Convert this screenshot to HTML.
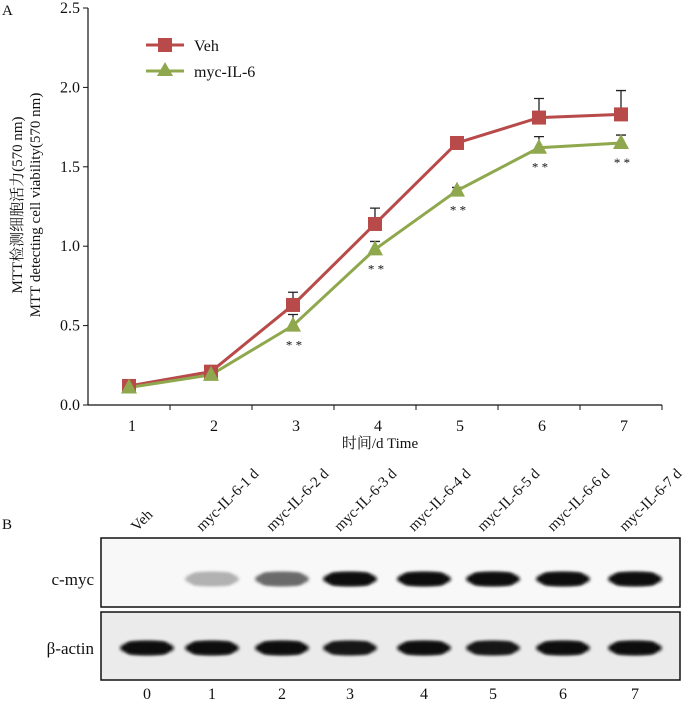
<!DOCTYPE html>
<html><head><meta charset="utf-8"><style>
body{margin:0;background:#fff;}
svg text{font-family:"Liberation Serif","Noto Serif CJK SC",serif;fill:#111;}
</style></head><body>
<svg width="700" height="702" viewBox="0 0 700 702">
<defs>
<filter id="blur" x="-20%" y="-60%" width="140%" height="220%"><feGaussianBlur stdDeviation="1.6"/></filter>
</defs>
<text x="2" y="15" font-size="15">A</text>
<g id="chart"></g>
<text x="2" y="529" font-size="15">B</text>
<g id="blot"></g>
</svg>
<script>
const days = [1,2,3,4,5,6,7];
const vehValues = [0.12,0.21,0.63,1.14,1.65,1.81,1.83];
const vehErr = [0.02,0.03,0.08,0.10,0.0,0.12,0.15];
const mycValues = [0.11,0.19,0.50,0.98,1.35,1.62,1.65];
const mycErr = [0.01,0.02,0.07,0.05,0.02,0.07,0.05];
const sigDays = [3,4,5,6,7];
const yTicks = [0.0,0.5,1.0,1.5,2.0,2.5];
const lanes = ["Veh","myc-IL-6-1 d","myc-IL-6-2 d","myc-IL-6-3 d","myc-IL-6-4 d","myc-IL-6-5 d","myc-IL-6-6 d","myc-IL-6-7 d"];
const laneNums = ["0","1","2","3","4","5","6","7"];
const cmycIntensity = [0,0.3,0.6,1,1,1,1,1];
const actinIntensity = [1,1,1,0.97,1,0.95,1,1];
const laneX = [147,212,282,350,424,493,563,635];

const NS="http://www.w3.org/2000/svg";
function mk(parent,tag,attrs,txt){const e=document.createElementNS(NS,tag);for(const k in attrs)e.setAttribute(k,attrs[k]);if(txt!==undefined)e.textContent=txt;parent.appendChild(e);return e;}
const X0=88,Y0=405,Y1=8,STEP=82;
const xs=d=>X0+STEP*(d-0.5);
const ys=v=>Y0-(v/2.5)*(Y0-Y1);
const g=document.getElementById('chart');
let ax=mk(g,'line',{x1:X0,y1:Y1,x2:X0,y2:Y0,stroke:'#111','stroke-width':1.2});


ax=mk(g,'line',{x1:X0,y1:Y0,x2:X0+STEP*7,y2:Y0,stroke:'#111','stroke-width':1.2});


yTicks.forEach(t=>{
  mk(g,'line',{x1:X0-5,y1:ys(t),x2:X0,y2:ys(t),stroke:'#111'});
  const tl=mk(g,'text',{x:X0-8,y:ys(t)+5,'font-size':16,'text-anchor':'end'},t.toFixed(1));
  
  
});
for(let i=1;i<=7;i++){mk(g,'line',{x1:X0+STEP*i,y1:Y0,x2:X0+STEP*i,y2:Y0+5,stroke:'#111'});}
days.forEach(d=>{
  const tl=mk(g,'text',{x:xs(d)+3,y:Y0+26,'font-size':16,'text-anchor':'middle'},String(d));
  
  
});
let t=mk(g,'text',{x:380,y:448,'font-size':15,'text-anchor':'middle'},'时间/d  Time');


t=mk(g,'text',{transform:'translate(22,205) rotate(-90)','font-size':15,'text-anchor':'middle'},'MTT检测细胞活力(570 nm)');


t=mk(g,'text',{transform:'translate(40,205) rotate(-90)','font-size':15,'text-anchor':'middle'},'MTT detecting cell viability(570 nm)');


function errBars(vals,errs,name){
  vals.forEach((v,i)=>{ if(errs[i]<=0)return;
    const x=xs(days[i]),y1=ys(v),y2=ys(v+errs[i]);
    const e=mk(g,'path',{d:`M${x},${y1}V${y2}M${x-5},${y2}H${x+5}`,stroke:'#222','stroke-width':1.3,fill:'none'});
    
    
  });
}
errBars(vehValues,vehErr,'veh-error-bar');
errBars(mycValues,mycErr,'myc-error-bar');
let l=mk(g,'polyline',{points:vehValues.map((v,i)=>xs(days[i])+','+ys(v)).join(' '),fill:'none',stroke:'#b84a4a','stroke-width':3});


l=mk(g,'polyline',{points:mycValues.map((v,i)=>xs(days[i])+','+ys(v)).join(' '),fill:'none',stroke:'#8fa84e','stroke-width':3});


vehValues.forEach((v,i)=>{
  const m=mk(g,'rect',{x:xs(days[i])-7,y:ys(v)-7,width:14,height:14,fill:'#b84a4a'});
  
  
});
mycValues.forEach((v,i)=>{
  const x=xs(days[i]),y=ys(v);
  const m=mk(g,'polygon',{points:`${x},${y-9} ${x-8},${y+6} ${x+8},${y+6}`,fill:'#8fa84e'});
  
  
});
sigDays.forEach(d=>{
  const i=days.indexOf(d);
  const s=mk(g,'text',{x:xs(d)+1,y:ys(mycValues[i])+24,'font-size':13,'text-anchor':'middle','font-family':'Liberation Sans'},'* *');
  
  
});
let lg=mk(g,'g',{});


mk(lg,'line',{x1:146,y1:45,x2:184,y2:45,stroke:'#b84a4a','stroke-width':3});
mk(lg,'rect',{x:158,y:38,width:14,height:14,fill:'#b84a4a'});
mk(lg,'text',{x:194,y:51,'font-size':16},'Veh');
mk(lg,'line',{x1:146,y1:71,x2:184,y2:71,stroke:'#8fa84e','stroke-width':3});
mk(lg,'polygon',{points:'165,62 157,76 173,76',fill:'#8fa84e'});
mk(lg,'text',{x:194,y:77,'font-size':16},'myc-IL-6');

const b=document.getElementById('blot');
function panel(y,h,vals,bandY,name,bw,bg){
  const p=mk(b,'g',{});
  
  
  mk(p,'rect',{x:101,y:y,width:579,height:h,fill:bg,stroke:'#111','stroke-width':1.5});
  vals.forEach((v,i)=>{ if(v<=0)return;
    const c=Math.round(235*(1-v)+12);
    mk(p,'ellipse',{cx:laneX[i],cy:bandY,rx:bw/2,ry:7,fill:`rgb(${c},${c},${c})`,filter:'url(#blur)'});
    mk(p,'rect',{x:laneX[i]-bw/2+6,y:bandY-6,width:bw-12,height:12,rx:5,fill:`rgb(${c},${c},${c})`,filter:'url(#blur)'});
  });
}
panel(538,69,cmycIntensity,579,'cmyc-blot',54,'#f8f8f8');
panel(612,68,actinIntensity,648,'actin-blot',54,'#ebebeb');
t=mk(b,'text',{x:94,y:585,'font-size':17,'text-anchor':'end'},'c-myc');


t=mk(b,'text',{x:94,y:654,'font-size':17,'text-anchor':'end'},'β-actin');


lanes.forEach((s,i)=>{
  const x=laneX[i]-10,y=532;
  const tl=mk(b,'text',{transform:`translate(${x},${y}) rotate(-45)`,'font-size':15},s);
  
  
});
laneNums.forEach((s,i)=>{
  const tl=mk(b,'text',{x:laneX[i],y:699,'font-size':16,'text-anchor':'middle'},s);
  
  
});
</script>
</body></html>
